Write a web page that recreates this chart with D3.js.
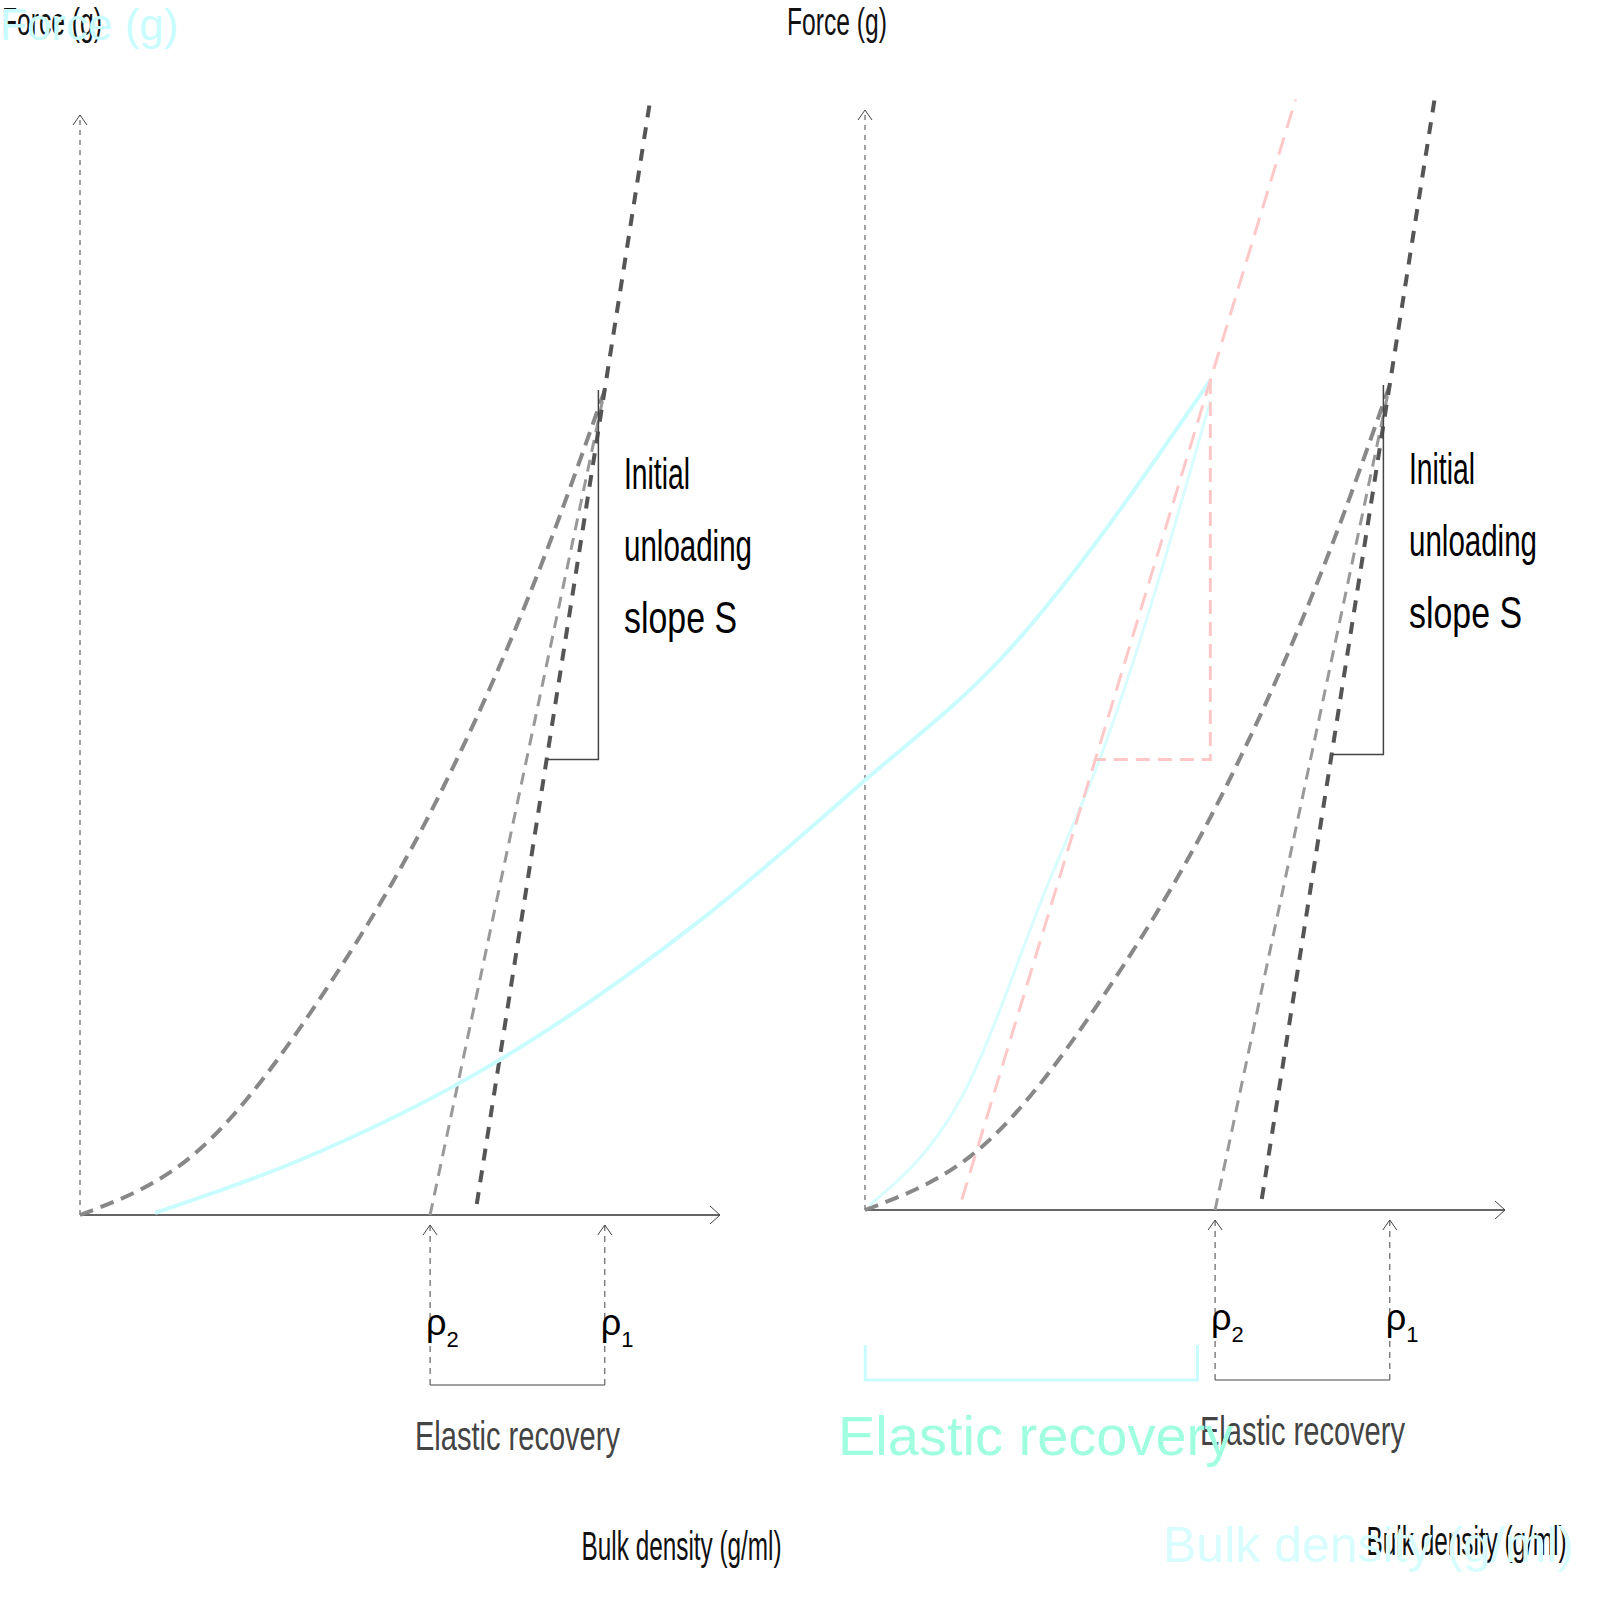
<!DOCTYPE html>
<html><head><meta charset="utf-8">
<script src="https://cdn.jsdelivr.net/npm/d3@7"></script>
<style>body{margin:0;background:#fff}</style></head>
<body><svg id="c" width="1600" height="1600"></svg>
<script>
// schematic data (arbitrary units 0-10)
const loadingCurve = [[0,0],[1.875,0.6],[3.9,2.1],[5.6,3.8],[7.2,5.9],[8.2,7.5]];
const unloadingLine = [[6.2,0.1],[8.9,10.1]];
const unloadingLight = [[5.47,0],[8.2,7.5]];
const slopeTriangle = [[8.1,7.5],[8.1,4.14],[7.3,4.14]];
const rhoMarks = [{x:5.47,label:"ρ",sub:"2"},{x:8.2,label:"ρ",sub:"1"}];
const slopeText = ["Initial","unloading","slope S"];
// overlay data
const cyanCurve1 = [[0.53,0.02],[1.55,0.5],[2.89,1.36],[4.37,2.68],[5.49,3.91],[6.48,5.05],[7.96,7.59]];
const cyanCurve2 = [[5.56,0.09],[6.2,1.05],[6.83,3.05],[7.18,4.14],[7.96,7.4]];
const pinkLine = [[6.21,0.14],[8.56,10.14]];
const pinkTriangle = [[7.96,7.59],[7.96,4.14],[7.15,4.14]];
const cyanBracket = [5.53,7.87];

const svg = d3.select("#c");
const line = (x,y)=>d3.line().x(d=>x(d[0])).y(d=>y(d[1]));
const font = "Liberation Sans, Arial, sans-serif";
const slopeWidths = [66,128,113];

function panel(x0,x1,y0,y1){
  const x=d3.scaleLinear().domain([0,10]).range([x0,x1]);
  const y=d3.scaleLinear().domain([0,10]).range([y0,y1]);
  const g=svg.append("g");
  g.append("line").attr("x1",x(0)).attr("x2",x(0)).attr("y1",y(0)).attr("y2",y(10)).attr("stroke","#444").attr("stroke-dasharray","5,5");
  g.append("line").attr("x1",x(0)).attr("x2",x(10)).attr("y1",y(0)).attr("y2",y(0)).attr("stroke","#666").attr("stroke-width",2);
  g.append("path").attr("d",`M${x(0)-7},${y(10)+10}L${x(0)},${y(10)}L${x(0)+7},${y(10)+10}`).attr("fill","none").attr("stroke","#444");
  g.append("path").attr("d",`M${x(10)-10},${y(0)-9}L${x(10)},${y(0)}L${x(10)-10},${y(0)+9}`).attr("fill","none").attr("stroke","#444");
  g.append("path").attr("d",line(x,y).curve(d3.curveMonotoneX)(loadingCurve)).attr("fill","none").attr("stroke","#888").attr("stroke-width",4).attr("stroke-dasharray","14,8");
  g.append("path").attr("d",line(x,y)(unloadingLight)).attr("fill","none").attr("stroke","#999").attr("stroke-width",3).attr("stroke-dasharray","12,8");
  g.append("path").attr("d",line(x,y)(unloadingLine)).attr("fill","none").attr("stroke","#555").attr("stroke-width",4).attr("stroke-dasharray","12,10");
  g.append("path").attr("d",line(x,y)(slopeTriangle)).attr("fill","none").attr("stroke","#444").attr("stroke-width",1.5);
  slopeText.forEach((t,i)=>g.append("text").attr("x",x(8.5)).attr("y",y(6.6)+i*72).attr("font-family",font).attr("font-size",44).attr("fill","#000").attr("textLength",slopeWidths[i]).attr("lengthAdjust","spacingAndGlyphs").text(t));
  rhoMarks.forEach(m=>{
    g.append("line").attr("x1",x(m.x)).attr("x2",x(m.x)).attr("y1",y(0)+10).attr("y2",y(0)+170).attr("stroke","#444").attr("stroke-dasharray","6,5");
    g.append("path").attr("d",`M${x(m.x)-7},${y(0)+20}L${x(m.x)},${y(0)+10}L${x(m.x)+7},${y(0)+20}`).attr("fill","none").attr("stroke","#444");
    const t=g.append("text").attr("x",x(m.x)-4).attr("y",y(0)+120).attr("font-family",font).attr("font-size",36).text(m.label);
    t.append("tspan").attr("font-size",22).attr("dy",12).text(m.sub);
  });
  g.append("line").attr("x1",x(rhoMarks[0].x)).attr("x2",x(rhoMarks[1].x)).attr("y1",y(0)+170).attr("y2",y(0)+170).attr("stroke","#444");
  g.append("text").attr("x",(x(rhoMarks[0].x)+x(rhoMarks[1].x))/2).attr("y",y(0)+235).attr("text-anchor","middle").attr("font-family",font).attr("font-size",40).attr("fill","#444").attr("textLength",205).attr("lengthAdjust","spacingAndGlyphs").text("Elastic recovery");
  g.append("text").attr("x",x(9.4)).attr("y",y(0)+345).attr("text-anchor","middle").attr("font-family",font).attr("font-size",40).attr("fill","#111").attr("textLength",200).attr("lengthAdjust","spacingAndGlyphs").text("Bulk density (g/ml)");
  g.append("text").attr("x",x(0)-78).attr("y",35).attr("font-family",font).attr("font-size",38).attr("fill","#111").attr("textLength",100).attr("lengthAdjust","spacingAndGlyphs").text("Force (g)");
}
panel(80,720,1215,115);
panel(865,1505,1210,110);

const ox=d3.scaleLinear().domain([0,10]).range([80,1500]);
const oy=d3.scaleLinear().domain([0,10]).range([1215,115]);
svg.append("path").attr("d",line(ox,oy).curve(d3.curveMonotoneX)(cyanCurve1)).attr("fill","none").attr("stroke","#c8fcff").attr("stroke-width",4);
svg.append("path").attr("d",line(ox,oy).curve(d3.curveMonotoneX)(cyanCurve2)).attr("fill","none").attr("stroke","#d8fdff").attr("stroke-width",3);
svg.append("path").attr("d",line(ox,oy)(pinkLine)).attr("fill","none").attr("stroke","#ffc8c8").attr("stroke-width",3).attr("stroke-dasharray","18,10");
svg.append("path").attr("d",line(ox,oy)(pinkTriangle)).attr("fill","none").attr("stroke","#ffc8c8").attr("stroke-width",3).attr("stroke-dasharray","14,8");
svg.append("path").attr("d",`M${ox(cyanBracket[0])},1345V1380H${ox(cyanBracket[1])}V1345`).attr("fill","none").attr("stroke","#c8fcff").attr("stroke-width",3);
svg.append("text").attr("x",838).attr("y",1455).attr("font-family",font).attr("font-size",56).attr("fill","#9fffe0").text("Elastic recovery");
svg.append("text").attr("x",1163).attr("y",1562).attr("font-family",font).attr("font-size",50).attr("fill","#d8fdff").text("Bulk density (g/ml)");
svg.append("text").attr("x",0).attr("y",40).attr("font-family",font).attr("font-size",44).attr("fill","#c8fcff").text("Force (g)");
</script></body></html>
